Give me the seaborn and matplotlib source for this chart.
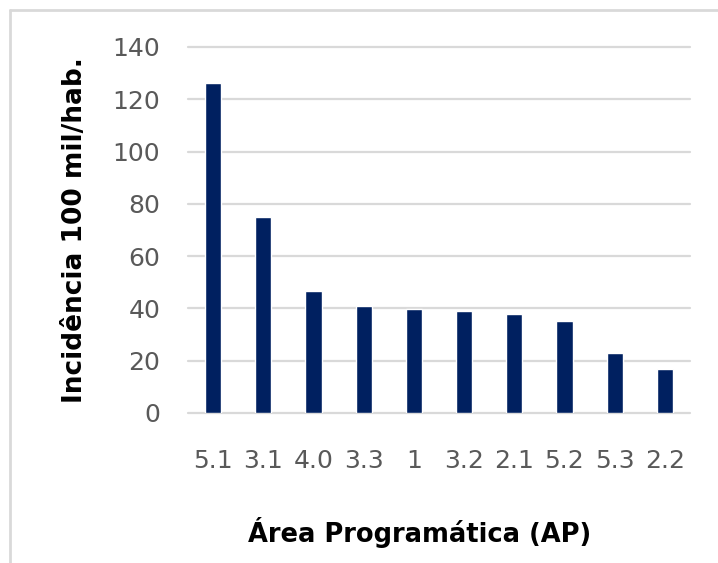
import matplotlib
matplotlib.use("Agg")
import matplotlib.pyplot as plt
import seaborn as sns
import pandas as pd
from matplotlib.lines import Line2D

# values
areas = ['5.1', '3.1', '4.0', '3.3', '1', '3.2', '2.1', '5.2', '5.3', '2.2']
incidencia = [126.1, 75.1, 46.8, 41.1, 39.7, 39.1, 37.8, 35.1, 22.8, 16.8]
y_ticks = [0, 20, 40, 60, 80, 100, 120, 140]

df = pd.DataFrame({'area': areas, 'incidencia': incidencia})

sns.set_style('white')
plt.rcParams['font.family'] = ['DejaVu Sans']

W, H = 718, 563
fig = plt.figure(figsize=(W / 100, H / 100), dpi=100)
ax = fig.add_axes([188 / W, 1 - 413 / H, 502 / W, 366 / H])

sns.barplot(data=df, x='area', y='incidencia', color='#002060', width=0.32,
            saturation=1, ax=ax, zorder=3)

ax.set_ylim(0, 140)
ax.set_xlim(-0.5, len(areas) - 0.5)
ax.set_yticks(y_ticks)
for t in y_ticks:
    ax.axhline(t, color='#d9d9d9', lw=1.6, zorder=1, clip_on=False)

for s in ax.spines.values():
    s.set_visible(False)
ax.tick_params(axis='both', length=0, labelsize=18, labelcolor='#595959')
ax.tick_params(axis='x', pad=26)
ax.tick_params(axis='y', pad=20)

ax.set_ylabel('Incidência 100 mil/hab.', fontsize=19, fontweight='bold', color='black')
ax.yaxis.set_label_coords(-0.2, 0.5)
ax.set_xlabel('Área Programática (AP)', fontsize=18.5, fontweight='bold', color='black')
ax.xaxis.set_label_coords(0.462, -0.285)

# light chart border (left and top edges visible)
fig.add_artist(Line2D([10 / W, 10 / W], [0, 1 - 10 / H], transform=fig.transFigure,
                      color='#d9d9d9', lw=2))
fig.add_artist(Line2D([10 / W, 1], [1 - 10 / H, 1 - 10 / H], transform=fig.transFigure,
                      color='#d9d9d9', lw=2))

fig.savefig('out.png', dpi=100)
